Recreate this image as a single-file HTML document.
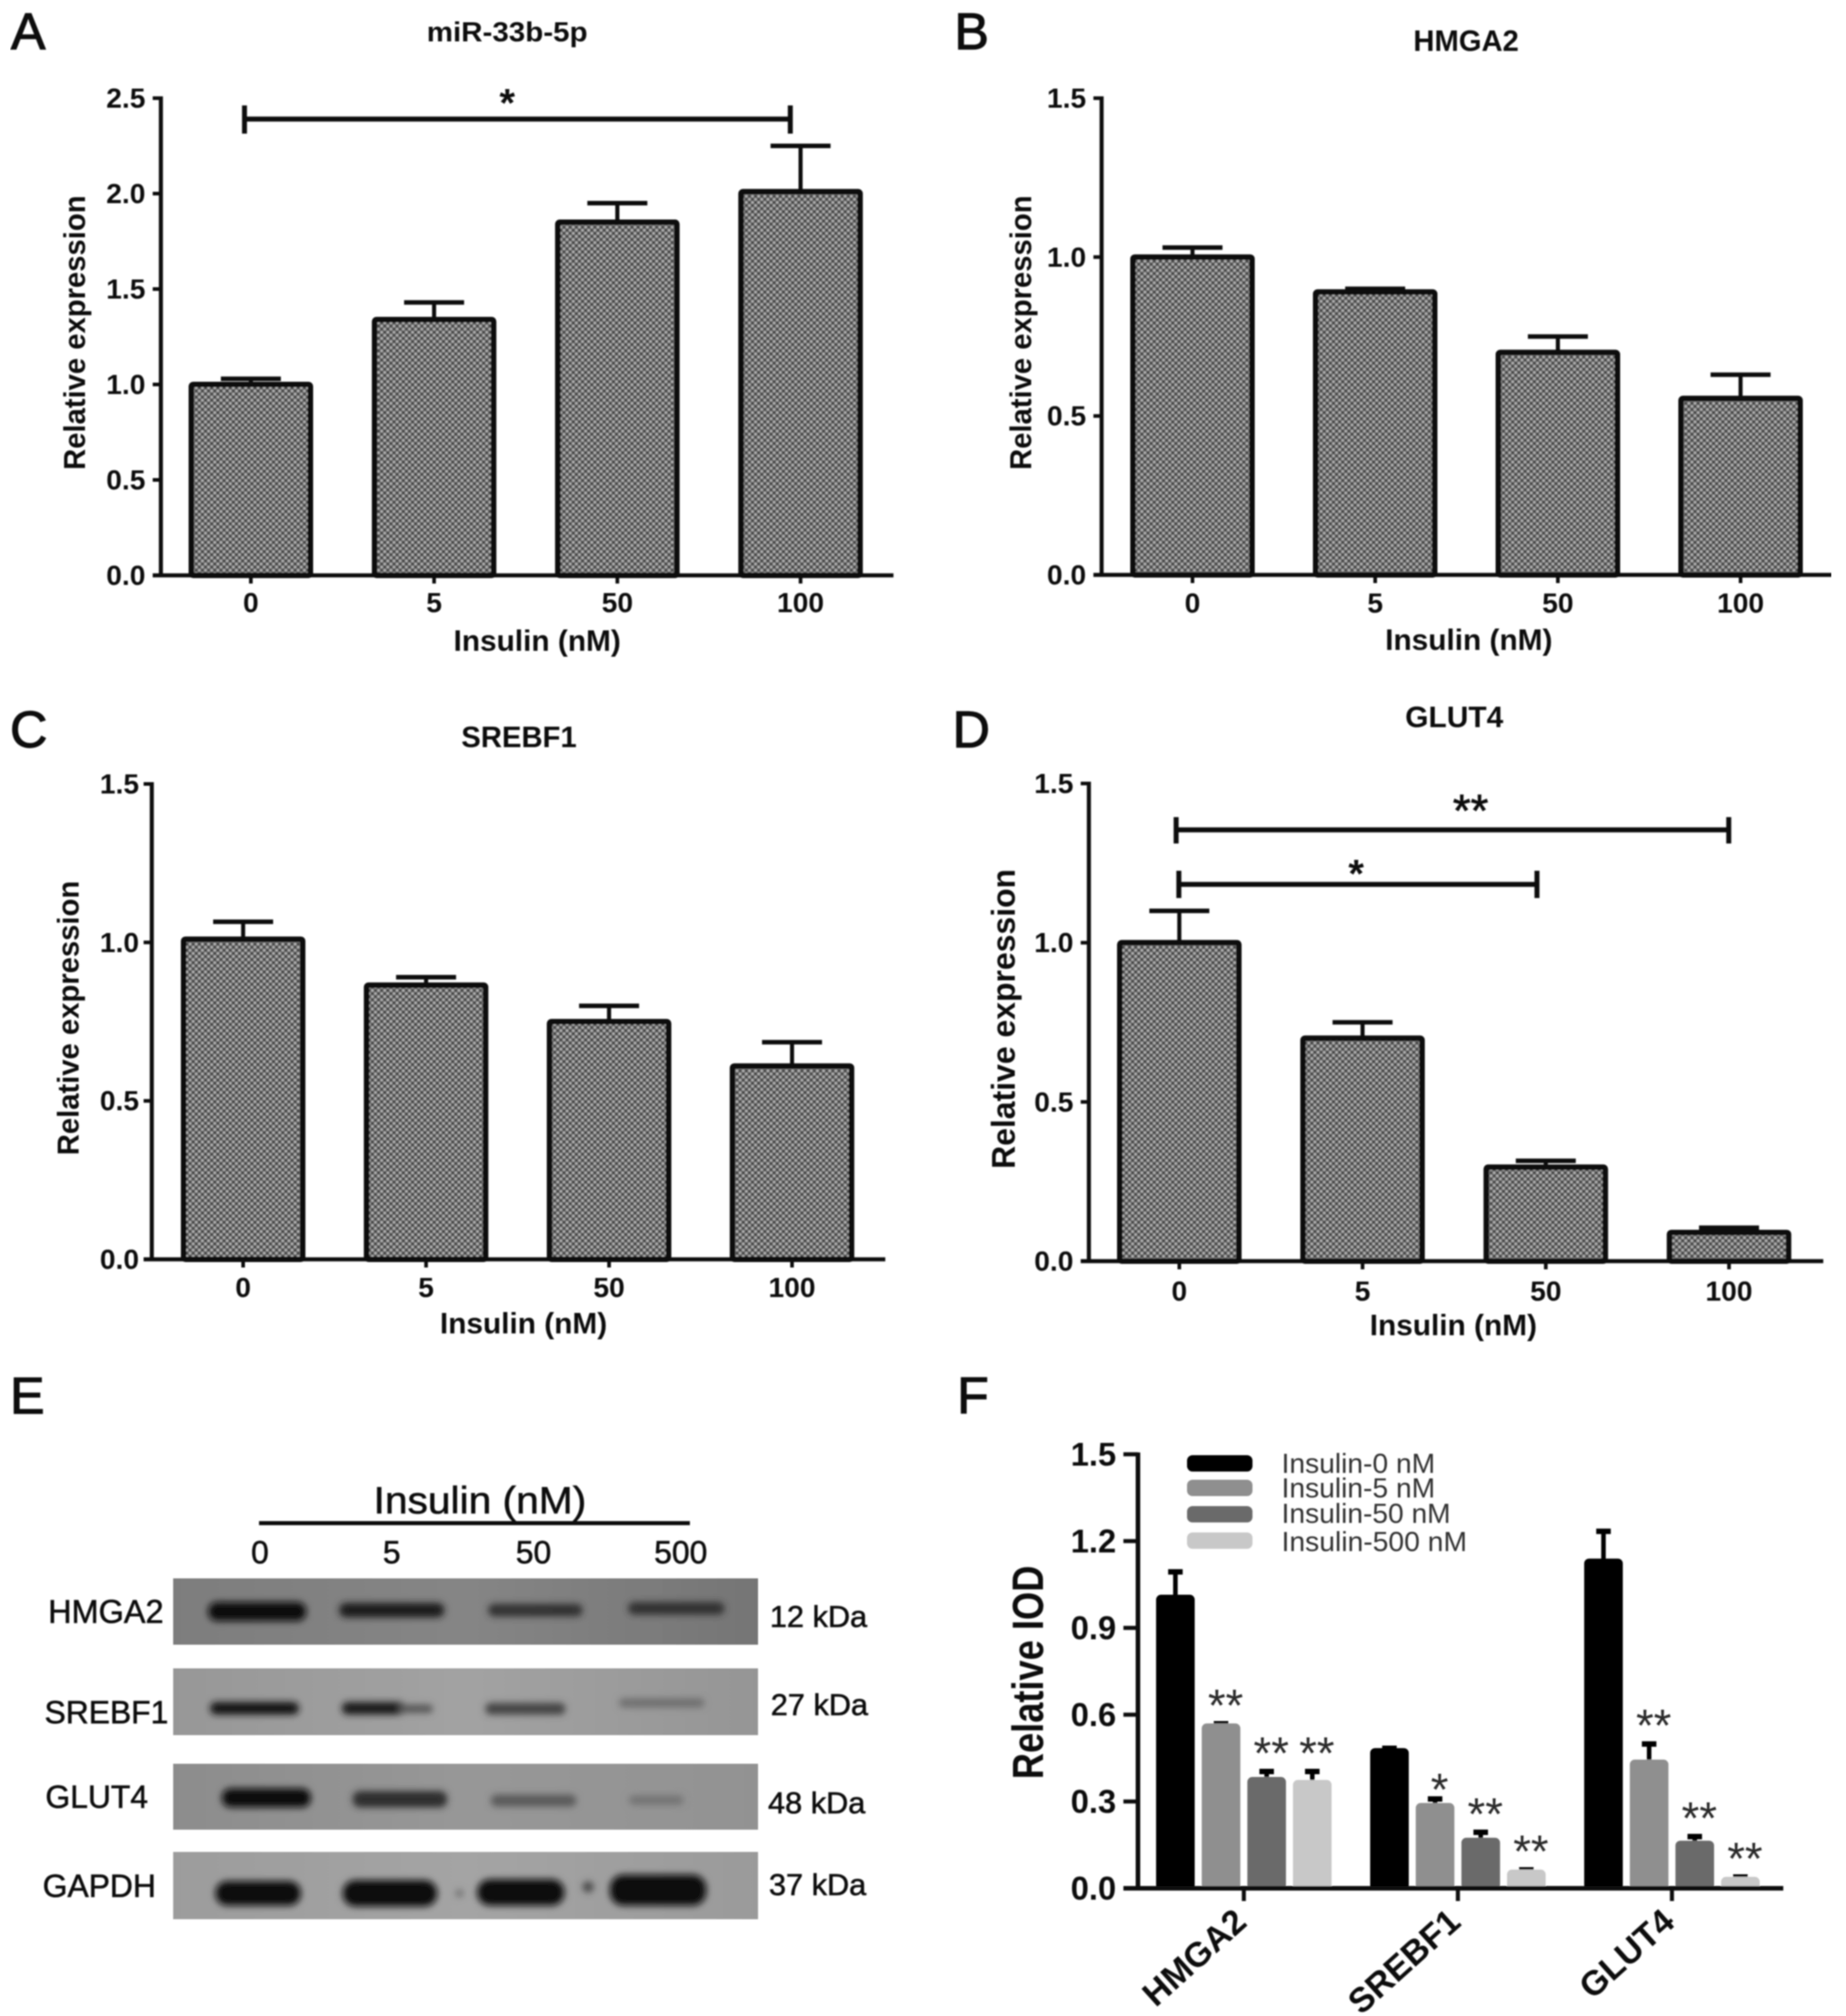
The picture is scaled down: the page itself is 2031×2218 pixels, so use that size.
<!DOCTYPE html>
<html lang="en">
<head>
<meta charset="utf-8">
<title>Insulin expression figure</title>
<style>
html,body{margin:0;padding:0;background:#fff;width:2031px;height:2218px;overflow:hidden}
svg{display:block}
text{font-family:"Liberation Sans",sans-serif;fill:#111}
.b{font-weight:bold}
.c{dominant-baseline:central}
.m{text-anchor:middle}
.letter{stroke:#111;stroke-width:1.2}
.heavy{stroke:#111;stroke-width:0.6}
</style>
</head>
<body>
<svg id="figure" width="2031" height="2218" viewBox="0 0 2031 2218" xmlns="http://www.w3.org/2000/svg">
<defs>
  <pattern id="bar-hatch" width="6.8" height="6.8" patternUnits="userSpaceOnUse">
    <rect width="6.8" height="6.8" fill="#6e6e6e"/>
    <circle cx="1.7" cy="1.7" r="1.3" fill="#b6b6b6"/>
    <circle cx="5.1" cy="5.1" r="1.3" fill="#b6b6b6"/>
    <circle cx="5.1" cy="1.7" r="1.3" fill="#404040"/>
    <circle cx="1.7" cy="5.1" r="1.3" fill="#404040"/>
  </pattern>
  <filter id="soft" x="0" y="0" width="100%" height="100%" filterUnits="objectBoundingBox"><feGaussianBlur stdDeviation="0.9"/></filter>
  <filter id="band-blur" x="-30%" y="-100%" width="160%" height="300%"><feGaussianBlur stdDeviation="3.6"/></filter>
  <linearGradient id="blot-hmga2"><stop offset="0" stop-color="#7d7d7d"/><stop offset="0.5" stop-color="#858585"/><stop offset="1" stop-color="#757575"/></linearGradient>
  <linearGradient id="blot-srebf1"><stop offset="0" stop-color="#979797"/><stop offset="0.5" stop-color="#a2a2a2"/><stop offset="1" stop-color="#959595"/></linearGradient>
  <linearGradient id="blot-glut4"><stop offset="0" stop-color="#8c8c8c"/><stop offset="0.5" stop-color="#979797"/><stop offset="1" stop-color="#929292"/></linearGradient>
  <linearGradient id="blot-gapdh"><stop offset="0" stop-color="#9c9c9c"/><stop offset="0.5" stop-color="#a4a4a4"/><stop offset="1" stop-color="#9a9a9a"/></linearGradient>
</defs>
<rect width="2031" height="2218" fill="#fff"/>
<g id="art" filter="url(#soft)">

  <!-- Panel letters -->
  <text class="letter" x="12" y="54" font-size="57">A</text>
  <text class="letter" x="1050" y="54" font-size="57">B</text>
  <text class="letter" x="11" y="822" font-size="57">C</text>
  <text class="letter" x="1048" y="822" font-size="57">D</text>
  <text class="letter" x="11" y="1555" font-size="57">E</text>
  <text class="letter" x="1053" y="1555" font-size="57">F</text>

  <!-- Titles and axis titles -->
  <text class="b c m" x="558" y="35" font-size="31" textLength="177" lengthAdjust="spacingAndGlyphs">miR-33b-5p</text>
  <text class="b c m" x="1613" y="45" font-size="32" textLength="116" lengthAdjust="spacingAndGlyphs">HMGA2</text>
  <text class="b c m" x="571" y="811" font-size="32" textLength="127" lengthAdjust="spacingAndGlyphs">SREBF1</text>
  <text class="b c m" x="1600" y="789" font-size="32" textLength="108" lengthAdjust="spacingAndGlyphs">GLUT4</text>

  <text class="b c m" x="591" y="705" font-size="32" textLength="184" lengthAdjust="spacingAndGlyphs">Insulin (nM)</text>
  <text class="b c m" x="1616" y="704" font-size="32" textLength="184" lengthAdjust="spacingAndGlyphs">Insulin (nM)</text>
  <text class="b c m" x="576" y="1456" font-size="32" textLength="184" lengthAdjust="spacingAndGlyphs">Insulin (nM)</text>
  <text class="b c m" x="1599" y="1458" font-size="32" textLength="184" lengthAdjust="spacingAndGlyphs">Insulin (nM)</text>

  <text class="b c m" transform="translate(82 366) rotate(-90)" font-size="33" textLength="302" lengthAdjust="spacingAndGlyphs">Relative expression</text>
  <text class="b c m" transform="translate(1123 366) rotate(-90)" font-size="33" textLength="302" lengthAdjust="spacingAndGlyphs">Relative expression</text>
  <text class="b c m" transform="translate(75 1120) rotate(-90)" font-size="33" textLength="302" lengthAdjust="spacingAndGlyphs">Relative expression</text>
  <text class="b c m" transform="translate(1104 1121) rotate(-90)" font-size="36" textLength="330" lengthAdjust="spacingAndGlyphs">Relative expression</text>
  <text class="b c m" transform="translate(1132 1840) rotate(-90)" font-size="48" textLength="235" lengthAdjust="spacingAndGlyphs">Relative IOD</text>

  <!-- Significance brackets -->
  <g stroke="#111" stroke-width="5.5" fill="none">
    <path d="M269 116V147M269 131H869.5M869.5 116V147"/>
  </g>
  <text class="b m" x="558" y="128" font-size="44">*</text>
  <g stroke="#111" stroke-width="5.5" fill="none">
    <path d="M1294 899V928M1294 913H1902M1902 899V928"/>
    <path d="M1297 958V988M1297 973H1691M1691 958V988"/>
  </g>
  <text class="m" x="1618" y="909" font-size="50" stroke="#111" stroke-width="0.8">**</text>
  <text class="b m" x="1492" y="976" font-size="44">*</text>

  <!-- Panel E: western blot -->
  <g transform="translate(-2 -1.5)">
    <text class="c m heavy" x="530" y="1652" font-size="42" textLength="234" lengthAdjust="spacingAndGlyphs">Insulin (nM)</text>
    <rect x="287" y="1675" width="474" height="4.5" fill="#111"/>
    <text class="c m heavy" x="288" y="1710" font-size="35">0</text>
    <text class="c m heavy" x="433" y="1710" font-size="35">5</text>
    <text class="c m heavy" x="589" y="1710" font-size="35">50</text>
    <text class="c m heavy" x="751" y="1710" font-size="35">500</text>

    <rect x="192.5" y="1738" width="643.5" height="73" fill="url(#blot-hmga2)"/>
    <rect x="192.5" y="1837" width="643.5" height="73.5" fill="url(#blot-srebf1)"/>
    <rect x="192.5" y="1942" width="643.5" height="72.5" fill="url(#blot-glut4)"/>
    <rect x="192.5" y="2039" width="643.5" height="74" fill="url(#blot-gapdh)"/>

    <g filter="url(#band-blur)">
      <rect x="231" y="1764" width="108" height="21" rx="10" fill="#0f0f0f"/>
      <rect x="375" y="1765" width="116" height="16" rx="8" fill="#1f1f1f"/>
      <rect x="539" y="1766" width="104" height="14" rx="7" fill="#303030"/>
      <rect x="693" y="1764" width="106" height="14" rx="7" fill="#303030"/>
    </g>
    <g filter="url(#band-blur)">
      <rect x="233" y="1874" width="98" height="14" rx="7" fill="#161616"/>
      <rect x="378" y="1874" width="70" height="14" rx="7" fill="#1a1a1a"/>
      <rect x="440" y="1877" width="38" height="9" rx="4" fill="#555"/>
      <rect x="536" y="1875" width="88" height="13" rx="6" fill="#444"/>
      <rect x="683" y="1870" width="94" height="10" rx="5" fill="#6e6e6e"/>
    </g>
    <g filter="url(#band-blur)">
      <rect x="246" y="1969" width="98" height="21" rx="10" fill="#080808"/>
      <rect x="390" y="1972" width="104" height="18" rx="8" fill="#2d2d2d"/>
      <rect x="542" y="1976" width="94" height="13" rx="6" fill="#5a5a5a"/>
      <rect x="694" y="1977" width="60" height="10" rx="5" fill="#727272"/>
    </g>
    <g filter="url(#band-blur)">
      <rect x="239" y="2071" width="94" height="27" rx="13" fill="#101010"/>
      <rect x="379" y="2070" width="104" height="29" rx="14" fill="#101010"/>
      <rect x="527" y="2069" width="96" height="29" rx="14" fill="#101010"/>
      <rect x="673" y="2064" width="106" height="34" rx="15" fill="#080808"/>
      <circle cx="507.5" cy="2084.5" r="4" fill="#666"/>
      <circle cx="649" cy="2077.5" r="6" fill="#444"/>
    </g>

    <text class="c heavy" x="55" y="1775" font-size="35.7">HMGA2</text>
    <text class="c heavy" x="51" y="1886" font-size="35">SREBF1</text>
    <text class="c heavy" x="52" y="1979" font-size="35">GLUT4</text>
    <text class="c heavy" x="49" y="2077" font-size="35">GAPDH</text>
    <text class="c heavy" x="849" y="1780" font-size="33" textLength="107" lengthAdjust="spacingAndGlyphs">12 kDa</text>
    <text class="c heavy" x="850" y="1877" font-size="33" textLength="107" lengthAdjust="spacingAndGlyphs">27 kDa</text>
    <text class="c heavy" x="847" y="1985" font-size="33" textLength="107" lengthAdjust="spacingAndGlyphs">48 kDa</text>
    <text class="c heavy" x="848" y="2075" font-size="33" textLength="107" lengthAdjust="spacingAndGlyphs">37 kDa</text>
  </g>

  <!-- Panel F legend -->
  <g transform="translate(-2 -1)">
    <rect x="1308" y="1602" width="72" height="18" rx="6" fill="#000"/>
    <rect x="1308" y="1629" width="72" height="18" rx="6" fill="#8f8f8f"/>
    <rect x="1308" y="1658" width="72" height="18" rx="6" fill="#6a6a6a"/>
    <rect x="1308" y="1687" width="72" height="18" rx="6" fill="#c8c8c8"/>
    <text class="c" style="fill:#333" x="1412" y="1611" font-size="31" textLength="169" lengthAdjust="spacingAndGlyphs">Insulin-0 nM</text>
    <text class="c" style="fill:#333" x="1412" y="1638" font-size="31" textLength="169" lengthAdjust="spacingAndGlyphs">Insulin-5 nM</text>
    <text class="c" style="fill:#333" x="1412" y="1666" font-size="31" textLength="186" lengthAdjust="spacingAndGlyphs">Insulin-50 nM</text>
    <text class="c" style="fill:#333" x="1412" y="1697" font-size="31" textLength="204" lengthAdjust="spacingAndGlyphs">Insulin-500 nM</text>
  </g>

  <g id="charts"></g>
</g>
</svg>

<script>
// ---- chart data ----
const doseCategories = ['0', '5', '50', '100'];
const yTicksA = ['0.0', '0.5', '1.0', '1.5', '2.0', '2.5'];
const yTicksBCD = ['0.0', '0.5', '1.0', '1.5'];

const panelAValues = [1.0, 1.34, 1.85, 2.01];
const panelAErrors = [0.03, 0.09, 0.10, 0.24];
const panelBValues = [1.0, 0.89, 0.70, 0.555];
const panelBErrors = [0.03, 0.01, 0.05, 0.075];
const panelCValues = [1.01, 0.865, 0.75, 0.61];
const panelCErrors = [0.055, 0.025, 0.05, 0.075];
const panelDValues = [1.0, 0.70, 0.295, 0.09];
const panelDErrors = [0.10, 0.05, 0.02, 0.015];

const geneCategories = ['HMGA2', 'SREBF1', 'GLUT4'];
const yTicksF = ['0.0', '0.3', '0.6', '0.9', '1.2', '1.5'];
const insulin0Values = [1.01, 0.48, 1.135];
const insulin0Errors = [0.09, 0.01, 0.105];
const insulin5Values = [0.565, 0.29, 0.44];
const insulin5Errors = [0.01, 0.025, 0.065];
const insulin50Values = [0.38, 0.17, 0.16];
const insulin50Errors = [0.03, 0.03, 0.025];
const insulin500Values = [0.37, 0.06, 0.035];
const insulin500Errors = [0.04, 0.01, 0.01];
const insulin0Stars = ['', '', ''];
const insulin5Stars = ['**', '*', '**'];
const insulin50Stars = ['**', '**', '**'];
const insulin500Stars = ['**', '**', '**'];

// ---- drawing helpers ----
const SVGNS = 'http://www.w3.org/2000/svg';
const chartsRoot = document.getElementById('charts');

function make(tag, attrs, parent) {
  const node = document.createElementNS(SVGNS, tag);
  for (const key in attrs) node.setAttribute(key, attrs[key]);
  parent.appendChild(node);
  return node;
}

function drawAxes(group, prefix, o, yScale, tickLabels) {
  const yAxis = make('line', {x1: o.axisX, x2: o.axisX, y1: o.top - 2, y2: o.base + 2, stroke: '#111', 'stroke-width': o.axisW}, group);
  
  
  const xAxis = make('line', {x1: o.axisX - o.tickLen, x2: o.axisEnd, y1: o.base, y2: o.base, stroke: '#111', 'stroke-width': o.axisW}, group);
  
  
  const gap = o.labelGap === undefined ? 8 : o.labelGap;
  tickLabels.forEach(function (label) {
    const v = parseFloat(label);
    const y = yScale(v);
    const tick = make('line', {x1: o.axisX - o.tickLen, x2: o.axisX, y1: y, y2: y, stroke: '#111', 'stroke-width': o.tickW}, group);
    
    
    const t = make('text', {x: o.axisX - o.tickLen - gap, y: y, 'font-size': o.tickFont, 'text-anchor': 'end', 'class': 'b c'}, group);
    t.textContent = label;
    
    
  });
}

function drawPanel(prefix, categories, values, errors, tickLabels, o) {
  const group = make('g', {}, chartsRoot);
  
  
  const tickMax = parseFloat(tickLabels[tickLabels.length - 1]);
  const yScale = function (v) { return o.base - v / tickMax * (o.base - o.top); };
  const xScale = function (i) { return o.firstCenter + i * o.step; };
  categories.forEach(function (cat, i) {
    const cx = xScale(i);
    const topY = yScale(values[i]);
    const errY = yScale(values[i] + errors[i]);
    const stem = make('line', {x1: cx, x2: cx, y1: errY, y2: topY, stroke: '#111', 'stroke-width': 4.5}, group);
    
    
    const cap = make('line', {x1: cx - 33, x2: cx + 33, y1: errY, y2: errY, stroke: '#111', 'stroke-width': 5}, group);
    
    
    const bar = make('rect', {x: cx - 65.5, y: topY, width: 131, height: o.base - topY, rx: 2, fill: 'url(#bar-hatch)', stroke: '#0c0c0c', 'stroke-width': 6}, group);
    
    
    const tick = make('line', {x1: cx, x2: cx, y1: o.base, y2: o.base + o.tickLen, stroke: '#111', 'stroke-width': o.tickW}, group);
    
    
    const label = make('text', {x: cx, y: o.base + o.labelOffset, 'font-size': o.tickFont, 'class': 'b c m'}, group);
    label.textContent = cat;
    
    
  });
  drawAxes(group, prefix, o, yScale, tickLabels);
}

const panelStyle = {axisW: 4.5, tickW: 4, tickLen: 9, tickFont: 31};

drawPanel('panel-a', doseCategories, panelAValues, panelAErrors, yTicksA,
  Object.assign({}, panelStyle, {axisX: 177, axisEnd: 983, top: 108, base: 633, firstCenter: 276, step: 201.6, labelOffset: 30}));
drawPanel('panel-b', doseCategories, panelBValues, panelBErrors, yTicksBCD,
  Object.assign({}, panelStyle, {axisX: 1212, axisEnd: 2015, top: 108, base: 632.5, firstCenter: 1312, step: 201, labelOffset: 31}));
drawPanel('panel-c', doseCategories, panelCValues, panelCErrors, yTicksBCD,
  Object.assign({}, panelStyle, {axisX: 167, axisEnd: 974, top: 862.5, base: 1385.5, firstCenter: 267.5, step: 201.3, labelOffset: 31, labelGap: 5}));
drawPanel('panel-d', doseCategories, panelDValues, panelDErrors, yTicksBCD,
  Object.assign({}, panelStyle, {axisX: 1198, axisEnd: 2006, top: 862, base: 1387.5, firstCenter: 1297.5, step: 201.6, labelOffset: 33}));

// Panel F: grouped bars
function drawGrouped() {
  const o = {axisX: 1252, axisEnd: 1962, top: 1600, base: 2077.5, axisW: 5, tickW: 4.5, tickLen: 16, tickFont: 36, groupFirst: 1368.5, groupStep: 235.5, barStep: 50.2, barW: 39.5};
  const seriesValues = [insulin0Values, insulin5Values, insulin50Values, insulin500Values];
  const seriesErrors = [insulin0Errors, insulin5Errors, insulin50Errors, insulin500Errors];
  const seriesStars = [insulin0Stars, insulin5Stars, insulin50Stars, insulin500Stars];
  const seriesColors = ['#000000', '#8f8f8f', '#6a6a6a', '#c8c8c8'];
  const group = make('g', {}, chartsRoot);
  
  
  const tickMax = parseFloat(yTicksF[yTicksF.length - 1]);
  const yScale = function (v) { return o.base - v / tickMax * (o.base - o.top); };
  const groupX = function (g) { return o.groupFirst + g * o.groupStep; };
  const barX = function (g, s) { return groupX(g) + (s - 1.5) * o.barStep; };
  geneCategories.forEach(function (gene, g) {
    seriesValues.forEach(function (vals, s) {
      const cx = barX(g, s);
      const topY = yScale(vals[g]);
      const errY = yScale(vals[g] + seriesErrors[s][g]);
      const stem = make('line', {x1: cx, x2: cx, y1: errY, y2: topY, stroke: '#000', 'stroke-width': 5}, group);
      
      
      const cap = make('line', {x1: cx - 8, x2: cx + 8, y1: errY + 2, y2: errY + 2, stroke: '#000', 'stroke-width': 6}, group);
      
      
      const bar = make('rect', {x: cx - o.barW / 2, y: topY, width: o.barW, height: o.base - topY, rx: 4, fill: seriesColors[s], stroke: seriesColors[s], 'stroke-width': 3}, group);
      
      
      if (seriesStars[s][g]) {
        const gapAbove = seriesStars[s][g].length === 1 ? 20 : 30;
        const star = make('text', {x: cx + 5, y: errY - gapAbove + 29, 'font-size': 50, 'class': 'm', style: 'fill:#2a2a2a'}, group);
        star.textContent = seriesStars[s][g];
        
        
      }
    });
    const x = groupX(g);
    const tick = make('line', {x1: x, x2: x, y1: o.base, y2: o.base + 14, stroke: '#111', 'stroke-width': o.tickW}, group);
    
    
    const label = make('text', {transform: 'translate(' + (x - 3) + ' ' + (o.base + 31) + ') rotate(-42)', 'font-size': 38, 'text-anchor': 'end', 'class': 'b c'}, group);
    label.textContent = gene;
    
    
  });
  drawAxes(group, 'panel-f', o, yScale, yTicksF);
}
drawGrouped();
</script>
</body>
</html>
